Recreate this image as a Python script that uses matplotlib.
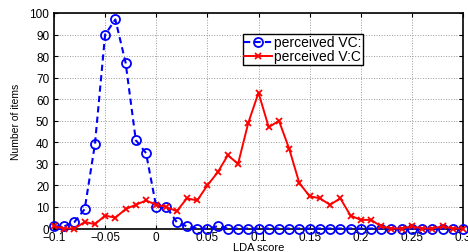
import matplotlib
matplotlib.use("Agg")
import matplotlib.pyplot as plt
from matplotlib import font_manager
import numpy as np

plt.rcParams['font.family'] = ['Liberation Sans', 'DejaVu Sans']

lda_score = [round(-0.1 + 0.01 * i, 2) for i in range(41)]
perceived_vc = [1, 1, 3, 9, 39, 90, 97, 77, 41, 35, 10, 10, 3, 1, 0, 0, 1, 0, 0, 0,
                0, 0, 0, 0, 0, 0, 0, 0, 0, 0, 0, 0, 0, 0, 0, 0, 0, 0, 0, 0, 0]
perceived_v_c = [1, 0, 0, 3, 2, 6, 5, 9, 11, 13, 11, 10, 8, 14, 13, 20, 26, 34, 30, 49,
                 63, 47, 50, 37, 21, 15, 14, 11, 14, 6, 4, 4, 1, 0, 0, 1, 0, 0, 1, 0, 0]
xticks = [-0.1, -0.05, 0, 0.05, 0.1, 0.15, 0.2, 0.25, 0.3]
xticklabels = ['\u22120.1', '\u22120.05', '0', '0.05', '0.1', '0.15', '0.2', '0.25', '0.3']
yticks = [0, 10, 20, 30, 40, 50, 60, 70, 80, 90, 100]

names = {f.name for f in font_manager.fontManager.ttflist}
ylab_family = ['Liberation Sans Narrow', 'Liberation Sans'] if 'Liberation Sans Narrow' in names else ['Liberation Sans']

W, H = 468, 253
x0, x1, y0, y1 = 54, 463, 14, 229.5
fig = plt.figure(figsize=(W/100, H/100), dpi=100)
ax = fig.add_axes([x0/W, 1 - y1/H, (x1-x0)/W, (y1-y0)/H])

ax.plot(lda_score, perceived_vc, linestyle='--', color='#0000ff', marker='o',
        markersize=6.5, markerfacecolor='none', markeredgewidth=1.3, linewidth=1.5,
        label='perceived VC:', dashes=(3, 2), clip_on=False, zorder=3)
ax.plot(lda_score, perceived_v_c, linestyle='-', color='#ff0000', marker='x',
        markersize=5, markeredgewidth=1.3, linewidth=1.4,
        label='perceived V:C', clip_on=False, zorder=4)

ax.set_xlim(-0.1, 0.3)
ax.set_ylim(0, 100)
ax.set_xticks(xticks)
ax.set_xticklabels(xticklabels)
ax.set_yticks(yticks)
ax.tick_params(direction='in', labelsize=8.5, length=3, width=0.8, top=True, right=True)
ax.tick_params(axis='x', pad=2)
ax.tick_params(axis='y', pad=3.5)
ax.grid(True, linestyle=':', color='#999999', linewidth=0.7)
ax.set_axisbelow(True)
for s in ax.spines.values():
    s.set_linewidth(1.2)

fig.text((x0 + x1) / 2 / W, 1 - 251/H, 'LDA score', fontsize=8, ha='center', va='baseline')
ax.set_ylabel('Number of items', fontsize=7.5, labelpad=6, family=ylab_family)

leg = ax.legend(loc='upper left', bbox_to_anchor=((243 - x0)/(x1 - x0), (y1 - 35)/(y1 - y0)),
                fontsize=10, frameon=True, fancybox=False, edgecolor='black', framealpha=1,
                borderpad=0.1, labelspacing=0.0, handlelength=2.0, handletextpad=0.15,
                borderaxespad=0)
leg.get_frame().set_linewidth(1.0)

fig.savefig('out.png', dpi=100)
